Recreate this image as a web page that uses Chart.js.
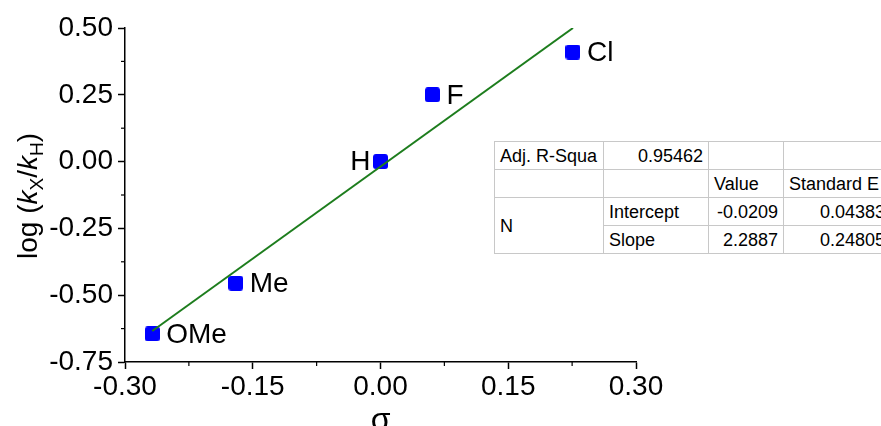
<!DOCTYPE html>
<html>
<head>
<meta charset="utf-8">
<script src="https://cdn.jsdelivr.net/npm/chart.js@4/dist/chart.umd.min.js"></script>
<style>
    body { margin: 0; background: #fff; overflow: hidden; }
    #wrap { position: relative; width: 881px; height: 426px; overflow: hidden; }
    #chart { position: absolute; left: 0; top: 0; }
    #tabla-ajuste {
        position: absolute; left: 494px; top: 141px;
        border-collapse: collapse; table-layout: fixed;
        font-family: "Liberation Sans", Arial, sans-serif; font-size: 18px; color: #000;
        background: #fff;
    }
    #tabla-ajuste td {
        border: 1px solid #c8c8c8;
        padding: 0 5px; height: 27px; white-space: nowrap; overflow: visible;
        line-height: 18px;
    }
    #tabla-ajuste td.num { text-align: right; }
</style>
</head>
<body>
<div id="wrap">
    <canvas id="chart" width="881" height="426"></canvas>
    <table id="tabla-ajuste"></table>
</div>
<script>
// ========== Datos ==========

const sustituyentes = ['OMe', 'Me', 'H', 'F', 'Cl'];
const sigma         = [-0.268, -0.170, 0.000, 0.061, 0.226];
const logKxKh       = [-0.645, -0.455, 0.000, 0.250, 0.410];

// recta de ajuste (extremos)
const ajusteX = [-0.268, 0.226];
const ajusteY = [-0.634, 0.500];

const ticksX = [-0.30, -0.15, 0.00, 0.15, 0.30];
const ticksY = [-0.75, -0.50, -0.25, 0.00, 0.25, 0.50];

// tabla de resultados del ajuste
const filaR2       = ['Adj. R-Squa', '0.95462', '', ''];
const filaCabecera = ['', '', 'Value', 'Standard E'];
const filaIntercep = ['Intercept', '-0.0209', '0.04383'];
const filaPend     = ['Slope', '2.2887', '0.24805'];

// lado de la etiqueta de cada punto
const ladoEtiqueta = ['right', 'right', 'left', 'right', 'right'];

const FUENTE = '"Liberation Sans", Arial, sans-serif';

// ========== Tabla ==========

function renderTabla() {
    const anchos = [109, 105, 75, 107];
    const t = document.getElementById('tabla-ajuste');
    const col = anchos.map(w => `<col style="width:${w}px">`).join('');
    t.innerHTML = `
        <colgroup>${col}</colgroup>
        <tr><td>${filaR2[0]}</td><td class="num">${filaR2[1]}</td><td>${filaR2[2]}</td><td>${filaR2[3]}</td></tr>
        <tr><td></td><td></td><td>${filaCabecera[2]}</td><td>${filaCabecera[3]}</td></tr>
        <tr><td rowspan="2">N</td><td>${filaIntercep[0]}</td><td class="num">${filaIntercep[1]}</td><td class="num">${filaIntercep[2]}</td></tr>
        <tr><td>${filaPend[0]}</td><td class="num">${filaPend[1]}</td><td class="num">${filaPend[2]}</td></tr>
    `;
    t.style.width = anchos.reduce((s, w) => s + w, 0) + 'px';
}

// ========== Marcador cuadrado ==========

function crearMarcador() {
    const c = document.createElement('canvas');
    c.width = 15; c.height = 15;
    const g = c.getContext('2d');
    g.fillStyle = '#0000ff';
    g.beginPath();
    g.roundRect(0, 0, 15, 15, 3);
    g.fill();
    return c;
}

// ========== Plugins ==========

const minorTicks = {
    id: 'minorTicks',
    afterDraw(chart) {
        const { ctx, scales: { x, y }, chartArea } = chart;
        ctx.save();
        ctx.strokeStyle = '#000';
        ctx.lineWidth = 1.2;
        for (let i = 0; i < ticksX.length - 1; i++) {
            const px = x.getPixelForValue((ticksX[i] + ticksX[i + 1]) / 2);
            ctx.beginPath();
            ctx.moveTo(px, chartArea.bottom);
            ctx.lineTo(px, chartArea.bottom + 4);
            ctx.stroke();
        }
        for (let i = 0; i < ticksY.length - 1; i++) {
            const py = y.getPixelForValue((ticksY[i] + ticksY[i + 1]) / 2);
            ctx.beginPath();
            ctx.moveTo(chartArea.left - 4, py);
            ctx.lineTo(chartArea.left, py);
            ctx.stroke();
        }
        ctx.restore();
    }
};

const etiquetas = {
    id: 'etiquetas',
    afterDatasetsDraw(chart) {
        const meta = chart.getDatasetMeta(1);
        const ctx = chart.ctx;
        ctx.save();
        ctx.font = `28px ${FUENTE}`;
        ctx.fillStyle = '#000';
        ctx.textBaseline = 'middle';
        meta.data.forEach((pt, i) => {
            if (ladoEtiqueta[i] === 'left') {
                ctx.textAlign = 'right';
                ctx.fillText(sustituyentes[i], pt.x - 10, pt.y + 1);
            } else {
                ctx.textAlign = 'left';
                ctx.fillText(sustituyentes[i], pt.x + 14, pt.y + 1);
            }
        });
        ctx.restore();
    }
};

const titulos = {
    id: 'titulos',
    afterDraw(chart) {
        const { ctx, chartArea } = chart;
        ctx.save();
        ctx.fillStyle = '#000';
        // título eje X
        ctx.font = `32px ${FUENTE}`;
        ctx.textAlign = 'center';
        ctx.textBaseline = 'alphabetic';
        ctx.fillText('σ', (chartArea.left + chartArea.right) / 2, chartArea.bottom + 68);

        // título eje Y: log (kX/kH)
        const partes = [
            { t: 'log (', f: `28px ${FUENTE}`, dy: 0 },
            { t: 'k', f: `italic 28px ${FUENTE}`, dy: 0 },
            { t: 'X', f: `19px ${FUENTE}`, dy: 6 },
            { t: '/', f: `28px ${FUENTE}`, dy: 0 },
            { t: 'k', f: `italic 28px ${FUENTE}`, dy: 0 },
            { t: 'H', f: `19px ${FUENTE}`, dy: 6 },
            { t: ')', f: `28px ${FUENTE}`, dy: 0 },
        ];
        let total = 0;
        partes.forEach(p => { ctx.font = p.f; p.w = ctx.measureText(p.t).width; total += p.w; });
        ctx.translate(37, 196);
        ctx.rotate(-Math.PI / 2);
        ctx.textAlign = 'left';
        let cx = -total / 2;
        partes.forEach(p => {
            ctx.font = p.f;
            ctx.fillText(p.t, cx, p.dy);
            cx += p.w;
        });
        ctx.restore();
    }
};

// ========== Gráfica ==========

function fmt(v) {
    return (Math.abs(v) < 1e-9 ? 0 : v).toFixed(2);
}

function renderChart() {
    const marcador = crearMarcador();
    const ejeComun = {
        border: { display: true, color: '#000', width: 1.5 },
        grid: { display: true, drawOnChartArea: false, drawTicks: true, tickLength: 7, tickColor: '#000', tickWidth: 1.5 },
        ticks: { color: '#000', font: { family: FUENTE, size: 28 }, callback: v => fmt(v) },
    };

    new Chart(document.getElementById('chart'), {
        type: 'scatter',
        data: {
            datasets: [
                {
                    type: 'line',
                    data: ajusteX.map((x, i) => ({ x, y: ajusteY[i] })),
                    borderColor: '#1d7d1d',
                    borderWidth: 2,
                    pointRadius: 0,
                    fill: false,
                    order: 0,
                },
                {
                    data: sigma.map((x, i) => ({ x, y: logKxKh[i] })),
                    pointStyle: marcador,
                    pointRadius: 8,
                    backgroundColor: '#0000ff',
                    borderWidth: 0,
                    order: 1,
                },
            ]
        },
        options: {
            responsive: false,
            animation: false,
            layout: { padding: { left: 0, right: 245, top: 28, bottom: 0 } },
            plugins: { legend: { display: false }, tooltip: { enabled: false } },
            scales: {
                x: {
                    ...ejeComun,
                    type: 'linear',
                    min: ticksX[0], max: ticksX[ticksX.length - 1],
                    ticks: { ...ejeComun.ticks, stepSize: 0.15, padding: 1, maxRotation: 0 },
                    afterBuildTicks: s => { s.ticks = ticksX.map(value => ({ value })); },
                    afterFit: s => { s.height = 64; },
                },
                y: {
                    ...ejeComun,
                    type: 'linear',
                    min: ticksY[0], max: ticksY[ticksY.length - 1],
                    ticks: { ...ejeComun.ticks, stepSize: 0.25, padding: 5 },
                    afterBuildTicks: s => { s.ticks = ticksY.map(value => ({ value })); },
                    afterFit: s => { s.width = 125; },
                },
            }
        },
        plugins: [minorTicks, etiquetas, titulos]
    });
}

window.addEventListener('DOMContentLoaded', () => {
    renderTabla();
    renderChart();
});
</script>
</body>
</html>
